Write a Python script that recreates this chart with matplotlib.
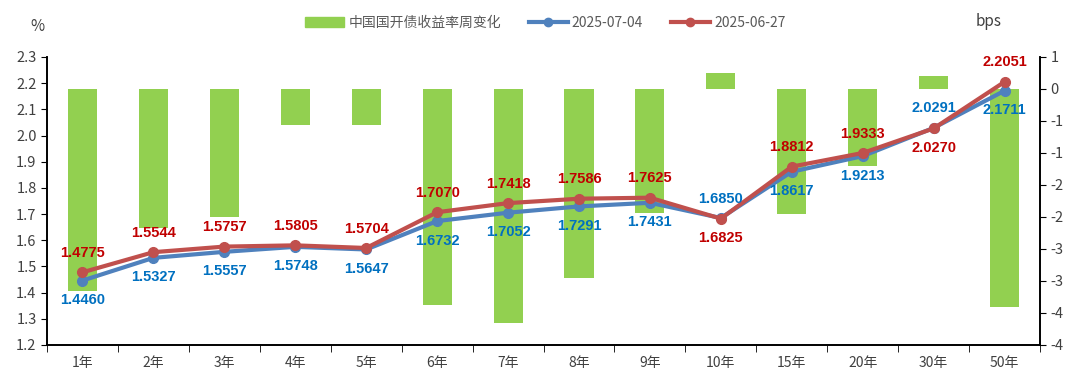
import matplotlib.pyplot as plt
import numpy as np
from matplotlib.patches import Patch
from matplotlib.lines import Line2D

plt.rcParams['font.family'] = ['Noto Sans CJK SC', 'DejaVu Sans']

terms = ['1年', '2年', '3年', '4年', '5年', '6年', '7年', '8年', '9年',
         '10年', '15年', '20年', '30年', '50年']
y_0704 = [1.4460, 1.5327, 1.5557, 1.5748, 1.5647, 1.6732, 1.7052, 1.7291,
          1.7431, 1.6850, 1.8617, 1.9213, 2.0291, 2.1711]
y_0627 = [1.4775, 1.5544, 1.5757, 1.5805, 1.5704, 1.7070, 1.7418, 1.7586,
          1.7625, 1.6825, 1.8812, 1.9333, 2.0270, 2.2051]
chg_bps = [-3.15, -2.17, -2.00, -0.57, -0.57, -3.38, -3.66, -2.95,
           -1.94, 0.25, -1.95, -1.20, 0.21, -3.40]

# label placement: +1 above the point, -1 below
blue_pos = [-1, -1, -1, -1, -1, -1, -1, -1, -1, 1, -1, -1, 1, -1]
red_pos = [1, 1, 1, 1, 1, 1, 1, 1, 1, -1, 1, 1, -1, 1]

c_bar = '#92D050'
c_blue = '#4F81BD'
c_red = '#C0504D'
c_blue_txt = '#0070C0'
c_red_txt = '#C00000'
c_tick = '#404040'

fig = plt.figure(figsize=(10.8, 3.85), dpi=100)
ax = fig.add_axes([0.0435, 0.104, 0.9195, 0.748])
ax2 = ax.twinx()
ax.set_zorder(ax2.get_zorder() + 1)
ax.patch.set_visible(False)

x = np.arange(len(terms))
ax2.bar(x, chg_bps, width=0.41, color=c_bar, zorder=1)
ax2.set_ylim(-4, 0.5)
ax2.set_yticks(np.arange(-4, 0.51, 0.5))
ax2.yaxis.set_major_formatter(
    plt.FuncFormatter(lambda v, p: f"{int(np.sign(v) * np.floor(abs(v) + 0.5))}"))

ax.plot(x, y_0704, color=c_blue, lw=3, marker='o', ms=7, zorder=3)
ax.plot(x, y_0627, color=c_red, lw=3, marker='o', ms=7, zorder=4)
ax.set_ylim(1.2, 2.3)
ax.set_yticks(np.arange(1.2, 2.31, 0.1))
ax.yaxis.set_major_formatter(plt.FuncFormatter(lambda v, p: f"{v:.1f}"))
ax.set_xlim(-0.5, len(terms) - 0.5)
ax.set_xticks(x)
ax.set_xticklabels(terms)
ax.set_xticks(np.arange(-0.5, len(terms), 1), minor=True)
ax.tick_params(axis='x', which='major', length=0, pad=8)
ax.tick_params(axis='x', which='minor', length=5, direction='out')

for a in (ax, ax2):
    a.tick_params(axis='y', length=4, direction='out', colors=c_tick,
                  labelsize=10.5)
    a.tick_params(axis='x', colors=c_tick, labelsize=10)
    a.spines['top'].set_visible(False)
    for s in ('left', 'right', 'bottom'):
        a.spines[s].set_color('black')
        a.spines[s].set_linewidth(1.2)
ax.tick_params(axis='x', which='minor', color='black')
ax.tick_params(axis='y', color='black')
ax2.tick_params(axis='y', color='black')

off = 14
lab_font = dict(fontsize=10.5, fontweight='bold', family='Liberation Sans',
                ha='center', va='center', zorder=6)
for i in x:
    ax.annotate(f"{y_0704[i]:.4f}", (i, y_0704[i]),
                xytext=(0, off * blue_pos[i]), textcoords='offset points',
                color=c_blue_txt, **lab_font)
    ax.annotate(f"{y_0627[i]:.4f}", (i, y_0627[i]),
                xytext=(0, off * red_pos[i]), textcoords='offset points',
                color=c_red_txt, **lab_font)

fig.text(0.035, 0.93, '%', fontsize=11, color=c_tick, ha='center', va='center')
fig.text(0.915, 0.945, 'bps', fontsize=11, color=c_tick, ha='center', va='center')

handles = [Patch(color=c_bar),
           Line2D([], [], color=c_blue, lw=3, marker='o', ms=6),
           Line2D([], [], color=c_red, lw=3, marker='o', ms=6)]
labels = ['中国国开债收益率周变化', '2025-07-04', '2025-06-27']
leg = fig.legend(handles, labels, loc='center', bbox_to_anchor=(0.505, 0.94),
                 ncol=3, frameon=False, fontsize=10, handlelength=2.8,
                 columnspacing=2.0, handletextpad=0.3)
for t in leg.get_texts():
    t.set_color('#595959')

fig.savefig('out.png', dpi=100)
